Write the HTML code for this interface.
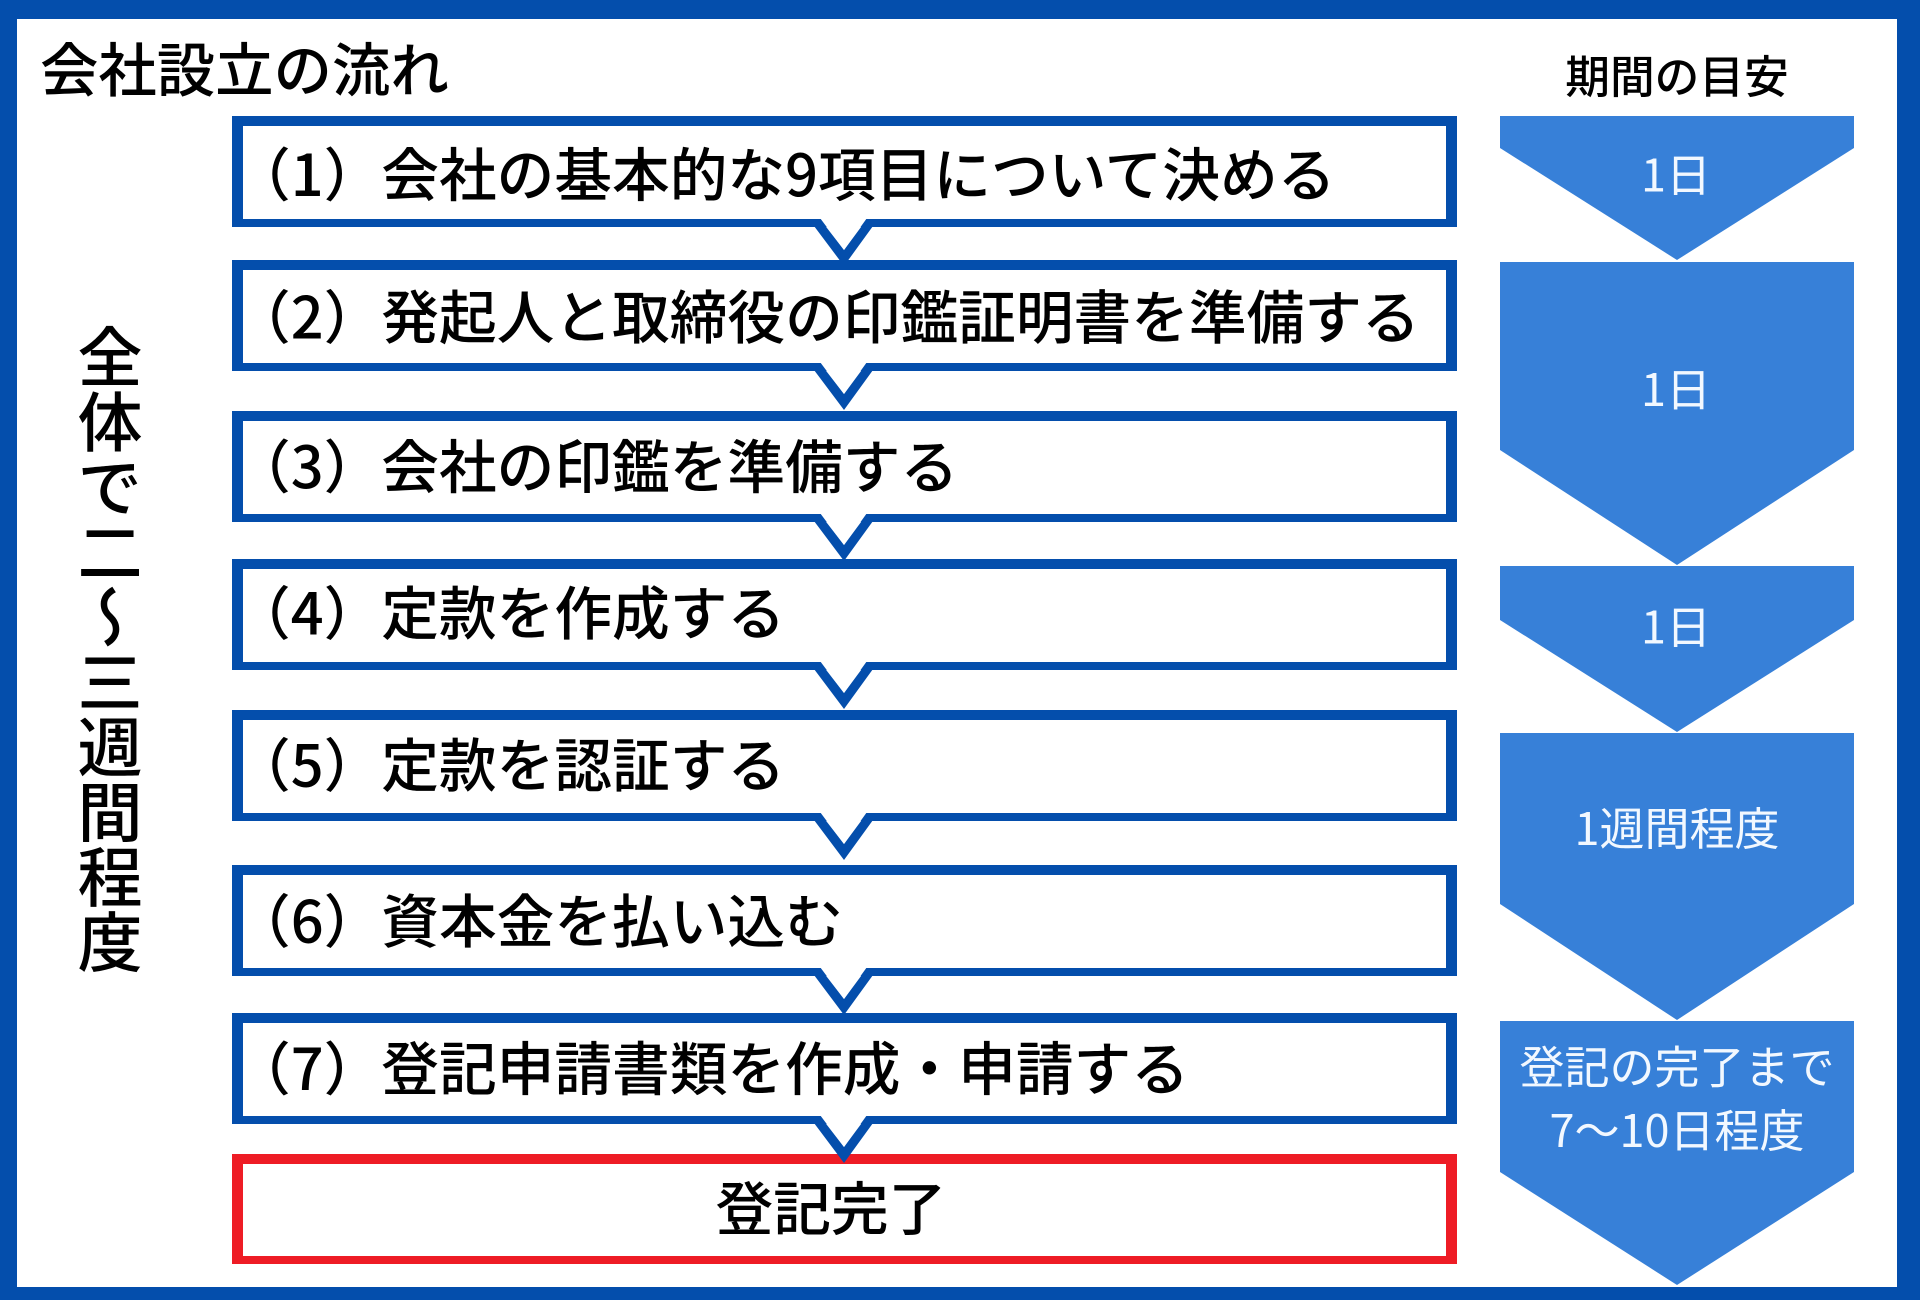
<!DOCTYPE html>
<html lang="ja">
<head>
<meta charset="utf-8">
<style>
html,body{margin:0;padding:0;background:#fff;width:1920px;height:1300px;overflow:hidden}
svg{position:absolute;left:0;top:0}
text{font-family:"Noto Sans CJK JP","Liberation Sans",sans-serif}
.m{font-size:57.7px;font-weight:500;fill:#000}
.w{font-size:45px;font-weight:400;fill:#f2f8ff;text-anchor:middle}
#v{position:absolute;left:70px;top:324px;width:80px;height:660px;writing-mode:vertical-rl;font-family:"Noto Sans CJK JP","Liberation Sans",sans-serif;font-size:65px;line-height:80px;font-weight:500;color:#000;white-space:nowrap}
</style>
</head>
<body>
<svg width="1920" height="1300" viewBox="0 0 1920 1300" xmlns="http://www.w3.org/2000/svg">
<rect x="0" y="0" width="1920" height="1300" fill="#044eac"/>
<rect x="17" y="19" width="1880" height="1268" fill="#fff"/>

<!-- boxes -->
<g fill="#044eac">
<rect x="232" y="116" width="1225" height="111"/>
<rect x="232" y="260" width="1225" height="111"/>
<rect x="232" y="411" width="1225" height="111"/>
<rect x="232" y="559" width="1225" height="111"/>
<rect x="232" y="710" width="1225" height="111"/>
<rect x="232" y="865" width="1225" height="111"/>
<rect x="232" y="1013" width="1225" height="111"/>
</g>
<rect x="232" y="1154" width="1225" height="110" fill="#ee1c25"/>
<g fill="#fff">
<rect x="243" y="126" width="1203" height="93"/>
<rect x="243" y="270" width="1203" height="93"/>
<rect x="243" y="421" width="1203" height="93"/>
<rect x="243" y="569" width="1203" height="93"/>
<rect x="243" y="720" width="1203" height="93"/>
<rect x="243" y="875" width="1203" height="93"/>
<rect x="243" y="1023" width="1203" height="93"/>
<rect x="243" y="1164" width="1203" height="92"/>
</g>

<!-- chevrons -->
<g fill="#044eac">
<polygon points="814,226 844,266 873,226 867,219 844,250 820,219"/>
<polygon points="814,370 844,410 873,370 867,363 844,394 820,363"/>
<polygon points="814,521 844,561 873,521 867,514 844,545 820,514"/>
<polygon points="814,669 844,709 873,669 867,662 844,693 820,662"/>
<polygon points="814,820 844,860 873,820 867,813 844,844 820,813"/>
<polygon points="814,975 844,1015 873,975 867,968 844,999 820,968"/>
<polygon points="814,1123 844,1163 873,1123 867,1116 844,1147 820,1116"/>
</g>
<g fill="#fff">
<polygon points="820,218 867,218 844,250"/>
<polygon points="820,362 867,362 844,394"/>
<polygon points="820,513 867,513 844,545"/>
<polygon points="820,661 867,661 844,693"/>
<polygon points="820,812 867,812 844,844"/>
<polygon points="820,967 867,967 844,999"/>
<polygon points="820,1115 867,1115 844,1147"/>
</g>

<!-- pentagons -->
<g fill="#3780d8">
<polygon points="1500,116 1854,116 1854,148 1677,260 1500,148"/>
<polygon points="1500,262 1854,262 1854,450 1677,565 1500,450"/>
<polygon points="1500,566 1854,566 1854,620 1677,732 1500,620"/>
<polygon points="1500,733 1854,733 1854,904 1677,1020 1500,904"/>
<polygon points="1500,1021 1854,1021 1854,1172 1677,1285 1500,1172"/>
</g>

<!-- text -->
<text x="40" y="91.5" font-size="58.4" font-weight="500" fill="#000">会社設立の流れ</text>
<text x="1677" y="93" font-size="44.7" font-weight="500" fill="#000" text-anchor="middle">期間の目安</text>

<text class="m" x="233" y="196">（1）会社の基本的な9項目について決める</text>
<text class="m" x="233" y="338.5">（2）発起人と取締役の印鑑証明書を準備する</text>
<text class="m" x="233" y="488">（3）会社の印鑑を準備する</text>
<text class="m" x="233" y="634.5">（4）定款を作成する</text>
<text class="m" x="233" y="786.5">（5）定款を認証する</text>
<text class="m" x="233" y="942.5">（6）資本金を払い込む</text>
<text class="m" x="233" y="1090">（7）登記申請書類を作成・申請する</text>
<text class="m" x="831" y="1230" text-anchor="middle">登記完了</text>

<text class="w" x="1676" y="191.5">1日</text>
<text class="w" x="1676" y="406">1日</text>
<text class="w" x="1676" y="643.5">1日</text>
<text class="w" x="1677" y="845">1週間程度</text>
<text class="w" x="1677" y="1083.5">登記の完了まで</text>
<text class="w" x="1677" y="1147">7〜10日程度</text>
</svg>
<div id="v">全体で二〜三週間程度</div>
</body>
</html>
